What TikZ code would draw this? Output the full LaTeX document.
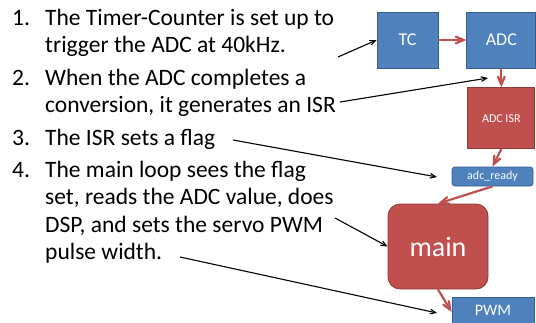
\documentclass[tikz,border=0pt]{standalone}
\usepackage{fontspec}
\setmainfont{Carlito}
\usetikzlibrary{arrows, positioning}
\definecolor{boxblue}{RGB}{79,129,189}
\definecolor{boxblueline}{RGB}{56,93,138}
\definecolor{boxred}{RGB}{192,80,77}
\definecolor{boxredline}{RGB}{140,56,54}

\begin{document}
\begin{tikzpicture}[x=1pt,y=1pt,>=angle 45,
  blk/.style={rectangle, draw=boxblueline, fill=boxblue, text=white, line width=0.8pt, inner sep=0pt},
  redblk/.style={blk, draw=boxredline, fill=boxred},
  flow/.style={->, draw=boxred, line width=2.2pt},
  note/.style={->, black, line width=1.1pt},
  item/.style={anchor=base west, align=left, inner sep=0pt, font=\fontsize{23.5}{27.5}\selectfont}]
  \useasboundingbox (0,0) rectangle (536,-322);
  \clip (0,0) rectangle (536,-322);

  % the steps (base of a node is its last line)
  \node[item] (n1) at (12,-25) {1.};
  \node[item] (t1) at (45,-52.5) {The Timer-Counter is set up to\\trigger the ADC at 40kHz.};
  \node[item] (n2) at (12,-85) {2.};
  \node[item] (t2) at (45,-112.5) {When the ADC completes a\\conversion, it generates an ISR};
  \node[item] (n3) at (12,-145) {3.};
  \node[item] (t3) at (45,-145) {The ISR sets a flag};
  \node[item] (n4) at (12,-177) {4.};
  \node[item] (t4) at (45,-259.5) {The main loop sees the flag\\set, reads the ADC value, does\\DSP, and sets the servo PWM\\pulse width.};

  % the blocks
  \node[blk, minimum width=61pt, minimum height=56pt, font=\fontsize{18}{18}\selectfont] (tc) at (407.5,-40) {TC};
  \node[blk, minimum width=69pt, minimum height=56pt, font=\fontsize{18}{18}\selectfont] (adc) [right=28pt of tc] {ADC};
  \node[redblk, minimum width=67pt, minimum height=61pt, font=\fontsize{12}{12}\selectfont] (isr) [below=19pt of adc] {ADC ISR};
  \node[blk, rounded corners=3pt, minimum width=81pt, minimum height=19pt, font=\fontsize{12}{12}\selectfont] (ready) at (492.5,-176.5) {adc\_ready};
  \node[redblk, rounded corners=12pt, minimum width=100pt, minimum height=85pt, font=\fontsize{28}{28}\selectfont] (main) at (438,-246.5) {main};
  \node[blk, minimum width=82pt, minimum height=30pt, text depth=4pt, font=\fontsize{16}{16}\selectfont] (pwm) at (493,-312) {PWM};

  \draw[flow] (tc) -- (adc);
  \draw[flow] (adc) -- (isr);
  \draw[flow] (isr.south) -- (ready.north);
  \draw[flow] (ready.south) -- (main.north);
  \draw[flow] (main.south) -- (pwm.west);

  % pointers from the text
  \coordinate (s1) at (338,-57);
  \coordinate (s2) at (340,-102);
  \coordinate (e2) at (488,-78);
  \coordinate (s3) at (233,-140);
  \coordinate (e3) at (437,-177);
  \coordinate (s4) at (335,-218);
  \coordinate (s5) at (180,-257);
  \coordinate (e5) at (437,-313);
  \draw[note] (s1) -- (tc.west);
  \draw[note] (s2) -- (e2);
  \draw[note] (s3) -- (e3);
  \draw[note] (s4) -- (main.west);
  \draw[note] (s5) -- (e5);
\end{tikzpicture}
\end{document}
